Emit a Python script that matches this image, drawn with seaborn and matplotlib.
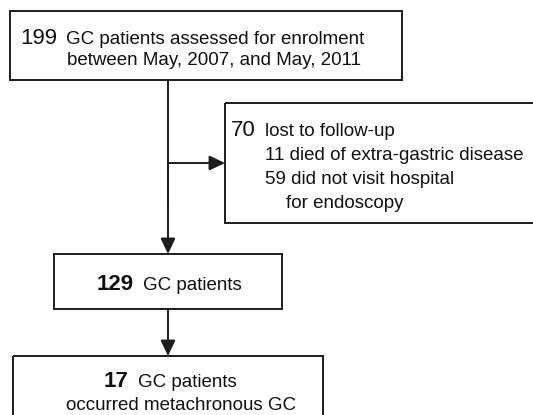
#!/usr/bin/env python3
"""
Flow diagram of GC patient enrolment and follow-up
"""

import matplotlib
matplotlib.use("Agg")
import matplotlib.pyplot as plt
from matplotlib.patches import Rectangle
import seaborn as sns

# Counts shown in each box
enrolled_n = 199
lost_n = 70
died_n = 11
no_visit_n = 59
followed_n = 129
metachronous_n = 17

# Box texts
enrolled_text = ["GC patients assessed for enrolment", "between May, 2007, and May, 2011"]
lost_text = "lost to follow-up"
died_text = "died of extra-gastric disease"
no_visit_text = ["did not visit hospital", "for endoscopy"]
followed_text = "GC patients"
metachronous_text = ["GC patients", "occurred metachronous GC"]

LINE = "#1c1c1c"
BIG = 16
SMALL = 13.5


def draw_box(ax, x0, y0, x1, y1):
    ax.add_patch(Rectangle((x0, y0), x1 - x0, y1 - y0, fill=False,
                           edgecolor=LINE, linewidth=1.4))


def arrow(ax, start, end):
    ax.annotate("", xy=end, xytext=start,
                arrowprops=dict(arrowstyle="-|>,head_length=0.95,head_width=0.45",
                                mutation_scale=10, color=LINE, lw=1.4,
                                shrinkA=0, shrinkB=0))


def main():
    sns.set_theme(style="white")
    plt.rcParams["font.family"] = ["Liberation Sans", "DejaVu Sans"]

    fig = plt.figure(figsize=(5.33, 4.15), dpi=100)
    ax = fig.add_axes([0, 0, 1, 1])
    ax.set_xlim(0, 533)
    ax.set_ylim(415, 0)
    ax.axis("off")

    # boxes
    draw_box(ax, 10, 11, 402, 80)
    draw_box(ax, 225, 103, 560, 223)
    draw_box(ax, 54, 254, 282, 309)
    draw_box(ax, 13, 356, 323, 440)

    # connectors
    ax.plot([168, 168], [80, 200], color=LINE, lw=1.4)
    arrow(ax, (168, 160), (168, 254))
    arrow(ax, (168, 163), (225, 163))
    arrow(ax, (168, 309), (168, 356))

    kw = dict(color="#111111", va="baseline")

    # enrolment box
    ax.text(20, 44, str(enrolled_n), fontsize=BIG, ha="left", **kw)
    ax.text(66, 44, enrolled_text[0], fontsize=SMALL, ha="left", **kw)
    ax.text(67, 65, enrolled_text[1], fontsize=SMALL, ha="left", **kw)

    # lost to follow-up box
    ax.text(231, 136, str(lost_n), fontsize=BIG, ha="left", **kw)
    ax.text(265, 136, lost_text, fontsize=SMALL, ha="left", **kw)
    ax.text(265, 160, f"{died_n} {died_text}", fontsize=SMALL, ha="left", **kw)
    ax.text(265, 184, f"{no_visit_n} {no_visit_text[0]}", fontsize=SMALL, ha="left", **kw)
    ax.text(286, 208, no_visit_text[1], fontsize=SMALL, ha="left", **kw)

    # followed box
    ax.text(134, 290, str(followed_n), fontsize=BIG, fontweight="bold", ha="right", **kw)
    ax.text(143, 290, followed_text, fontsize=SMALL, ha="left", **kw)

    # metachronous box
    ax.text(104, 387, str(metachronous_n), fontsize=BIG, fontweight="bold", ha="left", **kw)
    ax.text(138, 387, metachronous_text[0], fontsize=SMALL, ha="left", **kw)
    ax.text(66, 410, metachronous_text[1], fontsize=SMALL, ha="left", **kw)

    fig.savefig("out.png", dpi=100)


if __name__ == "__main__":
    main()
